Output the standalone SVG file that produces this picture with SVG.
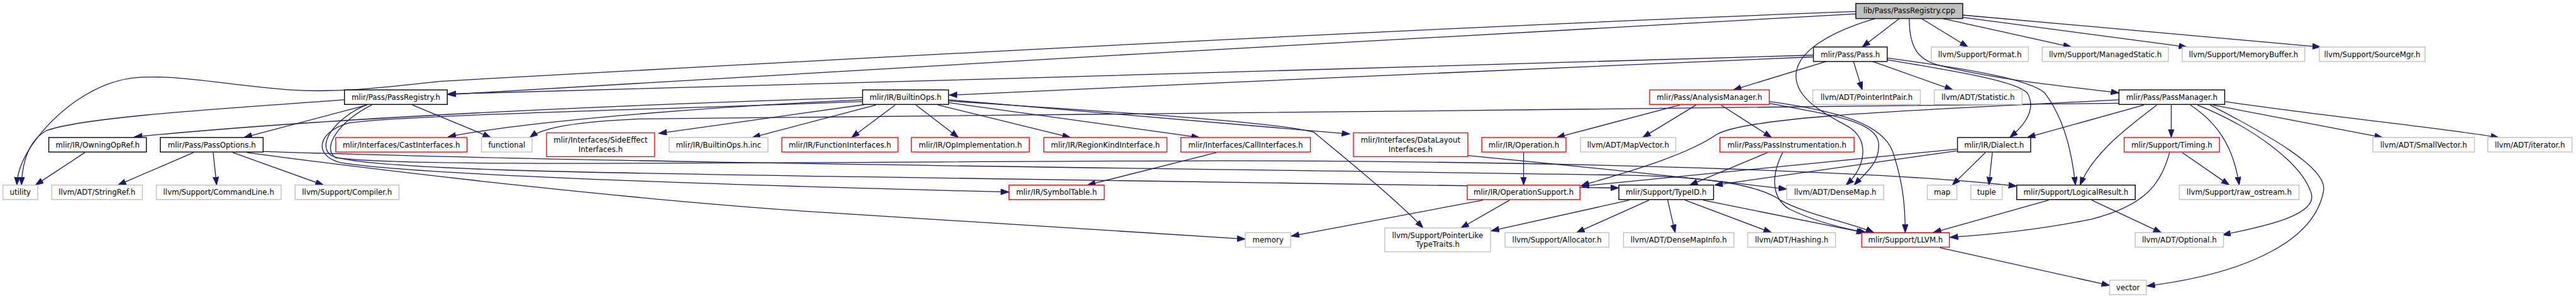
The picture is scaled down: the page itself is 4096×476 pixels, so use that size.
<svg xmlns="http://www.w3.org/2000/svg" width="4096" height="476" viewBox="0 0 4096 476">
<style>
.g rect{fill:#fff;stroke:#bfbfbf;stroke-width:1.5}
.r rect{fill:#fff;stroke:#ff0000;stroke-width:1.5}
.b rect{fill:#fff;stroke:#000;stroke-width:1.5}
.top rect{fill:#bfbfbf;stroke:#000;stroke-width:1.5}
text{font-family:"DejaVu Sans","Liberation Sans",sans-serif;font-size:12.8px;text-anchor:middle;fill:#000}
.e path{fill:none;stroke:#191970;stroke-width:1.4;marker-end:url(#a)}
</style>
<defs>
<marker id="a" markerUnits="userSpaceOnUse" markerWidth="15" markerHeight="11" refX="14" refY="5" orient="auto"><path d="M0,0 L14,5 L0,10 z" fill="#191970" stroke="#191970" stroke-width="1"/></marker>
</defs>
<rect width="4096" height="476" fill="#fff"/>
<g transform="scale(0.9236)">
<g id="edges" class="e">
<path d="M3195,20 C2500,45 1300,110 760,140 C650,152 580,160 500,155 C400,148 320,130 245,133 C160,136 90,200 55,250 C35,280 30,300 29,319"/>
<path d="M3195,24 C2600,55 1400,125 771,163"/>
<path d="M3228,32 C3150,55 3090,90 3092,133 C3094,175 3150,200 3185,220 C3220,245 3210,290 3178,319"/>
<path d="M3270,32 L3206,81"/>
<path d="M3287,32 C3287,80 3300,103 3340,113 C3450,140 3570,150 3648,160"/>
<path d="M3308,32 L3388,81"/>
<path d="M3345,32 L3566,81"/>
<path d="M3379,30 L3765,81"/>
<path d="M3379,26 L3995,81"/>
<path d="M3122,95 C2500,110 1500,145 771,162"/>
<path d="M3122,98 C2800,110 2100,143 1634,164"/>
<path d="M3144,106 L2984,155"/>
<path d="M3191,106 L3206,155"/>
<path d="M3224,106 L3362,155"/>
<path d="M3249,103 C3380,125 3470,140 3490,160 C3505,185 3490,212 3460,237"/>
<path d="M3249,100 C3400,120 3495,138 3520,160 C3555,205 3568,270 3573,319"/>
<path d="M593,172 C420,185 150,200 80,225 C45,245 38,290 37,319"/>
<path d="M632,181 L420,237"/>
<path d="M710,181 L845,237"/>
<path d="M630,181 C575,205 545,250 570,268 C620,292 1000,298 1500,305 C2000,312 2500,318 2787,324"/>
<path d="M640,181 C585,208 552,255 578,272 C700,288 1200,280 2100,277 C2800,278 3300,300 3472,321"/>
<path d="M1485,168 C1100,180 600,200 231,236"/>
<path d="M1485,172 C1200,185 900,210 771,236"/>
<path d="M1490,180 L1134,230"/>
<path d="M1508,181 L1295,237"/>
<path d="M1541,181 L1466,237"/>
<path d="M1577,181 L1650,237"/>
<path d="M1615,181 L1843,237"/>
<path d="M1633,177 L2065,237"/>
<path d="M1633,172 L2324,231"/>
<path d="M1633,174 C1900,192 2200,210 2262,228 C2300,260 2400,340 2450,393"/>
<path d="M1485,175 C1100,190 700,198 600,212 C545,228 540,268 585,280 C700,300 1200,318 1737,331"/>
<path d="M2094,263 L1872,319"/>
<path d="M2623,263 L2623,319"/>
<path d="M2892,181 L2680,237"/>
<path d="M2920,181 L2828,237"/>
<path d="M2963,181 L3050,237"/>
<path d="M3046,178 C3150,198 3228,208 3234,245 C3238,280 3210,300 3192,319"/>
<path d="M3046,175 C3170,192 3240,215 3258,260 C3275,310 3280,350 3280,401"/>
<path d="M3043,263 L2909,319"/>
<path d="M3069,263 C3050,300 3048,340 3080,360 C3120,380 3170,393 3213,401"/>
<path d="M3369,257 L2722,321"/>
<path d="M3369,260 L2952,319"/>
<path d="M3418,263 L3361,319"/>
<path d="M3430,263 L3424,319"/>
<path d="M3648,178 C3000,190 1600,195 1100,205 C990,210 935,220 912,237"/>
<path d="M3648,172 C3300,190 3010,200 2955,232 C2900,270 2790,300 2722,320"/>
<path d="M3691,181 L3490,237"/>
<path d="M3713,181 C3670,215 3605,260 3581,319"/>
<path d="M3738,181 L3738,237"/>
<path d="M3771,181 C3815,210 3845,250 3855,319"/>
<path d="M3783,181 C3880,220 3960,280 3978,330 C3995,370 3900,390 3826,405"/>
<path d="M3805,181 C3900,230 4010,290 4000,330 C3985,410 3880,470 3696,493"/>
<path d="M3810,181 L4102,237"/>
<path d="M3830,175 C4000,200 4200,220 4302,237"/>
<path d="M3757,263 L3838,319"/>
<path d="M3735,263 C3720,320 3690,355 3600,378 C3500,398 3420,405 3357,409"/>
<path d="M2553,345 L2223,407"/>
<path d="M2599,345 L2515,393"/>
<path d="M2805,345 L2567,398"/>
<path d="M2839,345 L2714,401"/>
<path d="M2871,345 L2884,401"/>
<path d="M2901,345 L3050,401"/>
<path d="M2932,345 L3210,401"/>
<path d="M3527,345 L3328,401"/>
<path d="M3601,345 L3721,401"/>
<path d="M3340,427 L3632,492"/>
<path d="M2527,268 C2700,285 2900,305 3076,326"/>
<path d="M333,263 L203,319"/>
<path d="M367,263 L373,319"/>
<path d="M401,263 L557,319"/>
<path d="M453,261 C1000,280 2000,290 2800,302 C2950,305 3030,320 3065,345 C3110,370 3190,385 3226,401"/>
<path d="M425,263 C700,300 1100,345 1400,365 C1700,385 2000,405 2144,412"/>
<path d="M146,263 L61,319"/>
</g>
<g id="n_cpp" class="top"><rect x="3195" y="6" width="184" height="26"/><text x="3287" y="23">lib/Pass/PassRegistry.cpp</text></g>
<g id="n_pass" class="b"><rect x="3122" y="81" width="127" height="25"/><text x="3185.5" y="98">mlir/Pass/Pass.h</text></g>
<g id="n_format" class="g"><rect x="3325" y="81" width="167" height="25"/><text x="3408.5" y="98">llvm/Support/Format.h</text></g>
<g id="n_managedstatic" class="g"><rect x="3516" y="81" width="217" height="25"/><text x="3624.5" y="98">llvm/Support/ManagedStatic.h</text></g>
<g id="n_memorybuffer" class="g"><rect x="3757" y="81" width="211" height="25"/><text x="3862.5" y="98">llvm/Support/MemoryBuffer.h</text></g>
<g id="n_sourcemgr" class="g"><rect x="3993" y="81" width="182" height="25"/><text x="4084" y="98">llvm/Support/SourceMgr.h</text></g>
<g id="n_passregistry" class="b"><rect x="593" y="155" width="177" height="25"/><text x="681.5" y="172">mlir/Pass/PassRegistry.h</text></g>
<g id="n_builtinops" class="b"><rect x="1485" y="155" width="148" height="25"/><text x="1559" y="172">mlir/IR/BuiltinOps.h</text></g>
<g id="n_analysismanager" class="r"><rect x="2840" y="155" width="206" height="25"/><text x="2943" y="172">mlir/Pass/AnalysisManager.h</text></g>
<g id="n_pointerintpair" class="g"><rect x="3121" y="155" width="185" height="25"/><text x="3213.5" y="172">llvm/ADT/PointerIntPair.h</text></g>
<g id="n_statistic" class="g"><rect x="3330" y="155" width="151" height="25"/><text x="3405.5" y="172">llvm/ADT/Statistic.h</text></g>
<g id="n_passmanager" class="b"><rect x="3648" y="155" width="182" height="25"/><text x="3739" y="172">mlir/Pass/PassManager.h</text></g>
<g id="n_owningopref" class="b"><rect x="84" y="237" width="168" height="25"/><text x="168" y="254">mlir/IR/OwningOpRef.h</text></g>
<g id="n_passoptions" class="b"><rect x="276" y="237" width="177" height="25"/><text x="364.5" y="254">mlir/Pass/PassOptions.h</text></g>
<g id="n_castinterfaces" class="r"><rect x="578" y="237" width="226" height="25"/><text x="691" y="254">mlir/Interfaces/CastInterfaces.h</text></g>
<g id="n_functional" class="g"><rect x="829" y="237" width="87" height="25"/><text x="872.5" y="254">functional</text></g>
<g id="n_sideeffect" class="r"><rect x="941" y="229" width="186" height="41"/><text x="1034" y="246">mlir/Interfaces/SideEffect</text><text x="1034" y="262">Interfaces.h</text></g>
<g id="n_builtinopsinc" class="g"><rect x="1152" y="237" width="170" height="25"/><text x="1237" y="254">mlir/IR/BuiltinOps.h.inc</text></g>
<g id="n_functioninterfaces" class="r"><rect x="1346" y="237" width="200" height="25"/><text x="1446" y="254">mlir/IR/FunctionInterfaces.h</text></g>
<g id="n_opimplementation" class="r"><rect x="1569" y="237" width="203" height="25"/><text x="1670.5" y="254">mlir/IR/OpImplementation.h</text></g>
<g id="n_regionkind" class="r"><rect x="1797" y="237" width="212" height="25"/><text x="1903" y="254">mlir/IR/RegionKindInterface.h</text></g>
<g id="n_callinterfaces" class="r"><rect x="2033" y="237" width="223" height="25"/><text x="2144.5" y="254">mlir/Interfaces/CallInterfaces.h</text></g>
<g id="n_datalayout" class="r"><rect x="2330" y="229" width="197" height="41"/><text x="2428.5" y="246">mlir/Interfaces/DataLayout</text><text x="2428.5" y="262">Interfaces.h</text></g>
<g id="n_operation" class="r"><rect x="2551" y="237" width="145" height="25"/><text x="2623.5" y="254">mlir/IR/Operation.h</text></g>
<g id="n_mapvector" class="g"><rect x="2721" y="237" width="164" height="25"/><text x="2803" y="254">llvm/ADT/MapVector.h</text></g>
<g id="n_passinstrumentation" class="r"><rect x="2961" y="237" width="231" height="25"/><text x="3076.5" y="254">mlir/Pass/PassInstrumentation.h</text></g>
<g id="n_dialect" class="b"><rect x="3370" y="237" width="126" height="25"/><text x="3433" y="254">mlir/IR/Dialect.h</text></g>
<g id="n_timing" class="r"><rect x="3657" y="237" width="164" height="25"/><text x="3739" y="254">mlir/Support/Timing.h</text></g>
<g id="n_smallvector" class="g"><rect x="4085" y="237" width="175" height="25"/><text x="4172.5" y="254">llvm/ADT/SmallVector.h</text></g>
<g id="n_iterator" class="g"><rect x="4283" y="237" width="145" height="25"/><text x="4355.5" y="254">llvm/ADT/iterator.h</text></g>
<g id="n_utility" class="g"><rect x="5" y="319" width="60" height="25"/><text x="35" y="336">utility</text></g>
<g id="n_stringref" class="g"><rect x="89" y="319" width="156" height="25"/><text x="167" y="336">llvm/ADT/StringRef.h</text></g>
<g id="n_commandline" class="g"><rect x="269" y="319" width="215" height="25"/><text x="376.5" y="336">llvm/Support/CommandLine.h</text></g>
<g id="n_compiler" class="g"><rect x="508" y="319" width="179" height="25"/><text x="597.5" y="336">llvm/Support/Compiler.h</text></g>
<g id="n_symboltable" class="r"><rect x="1737" y="319" width="164" height="25"/><text x="1819" y="336">mlir/IR/SymbolTable.h</text></g>
<g id="n_operationsupport" class="r"><rect x="2526" y="319" width="194" height="25"/><text x="2623" y="336">mlir/IR/OperationSupport.h</text></g>
<g id="n_typeid" class="b"><rect x="2787" y="319" width="163" height="25"/><text x="2868.5" y="336">mlir/Support/TypeID.h</text></g>
<g id="n_densemap" class="g"><rect x="3076" y="319" width="167" height="25"/><text x="3159.5" y="336">llvm/ADT/DenseMap.h</text></g>
<g id="n_map" class="g"><rect x="3318" y="319" width="51" height="25"/><text x="3343.5" y="336">map</text></g>
<g id="n_tuple" class="g"><rect x="3393" y="319" width="54" height="25"/><text x="3420" y="336">tuple</text></g>
<g id="n_logicalresult" class="b"><rect x="3472" y="319" width="204" height="25"/><text x="3574" y="336">mlir/Support/LogicalResult.h</text></g>
<g id="n_rawostream" class="g"><rect x="3752" y="319" width="206" height="25"/><text x="3855" y="336">llvm/Support/raw_ostream.h</text></g>
<g id="n_memory" class="g"><rect x="2144" y="401" width="78" height="25"/><text x="2183" y="418">memory</text></g>
<g id="n_pointerlike" class="g"><rect x="2384" y="393" width="182" height="41"/><text x="2475" y="410">llvm/Support/PointerLike</text><text x="2475" y="426">TypeTraits.h</text></g>
<g id="n_allocator" class="g"><rect x="2591" y="401" width="179" height="25"/><text x="2680.5" y="418">llvm/Support/Allocator.h</text></g>
<g id="n_densemapinfo" class="g"><rect x="2795" y="401" width="190" height="25"/><text x="2890" y="418">llvm/ADT/DenseMapInfo.h</text></g>
<g id="n_hashing" class="g"><rect x="3009" y="401" width="151" height="25"/><text x="3084.5" y="418">llvm/ADT/Hashing.h</text></g>
<g id="n_llvm" class="r"><rect x="3205" y="401" width="151" height="25"/><text x="3280.5" y="418">mlir/Support/LLVM.h</text></g>
<g id="n_optional" class="g"><rect x="3676" y="401" width="152" height="25"/><text x="3752" y="418">llvm/ADT/Optional.h</text></g>
<g id="n_vector" class="g"><rect x="3632" y="483" width="63" height="25"/><text x="3663.5" y="500">vector</text></g>
</g>
</svg>
